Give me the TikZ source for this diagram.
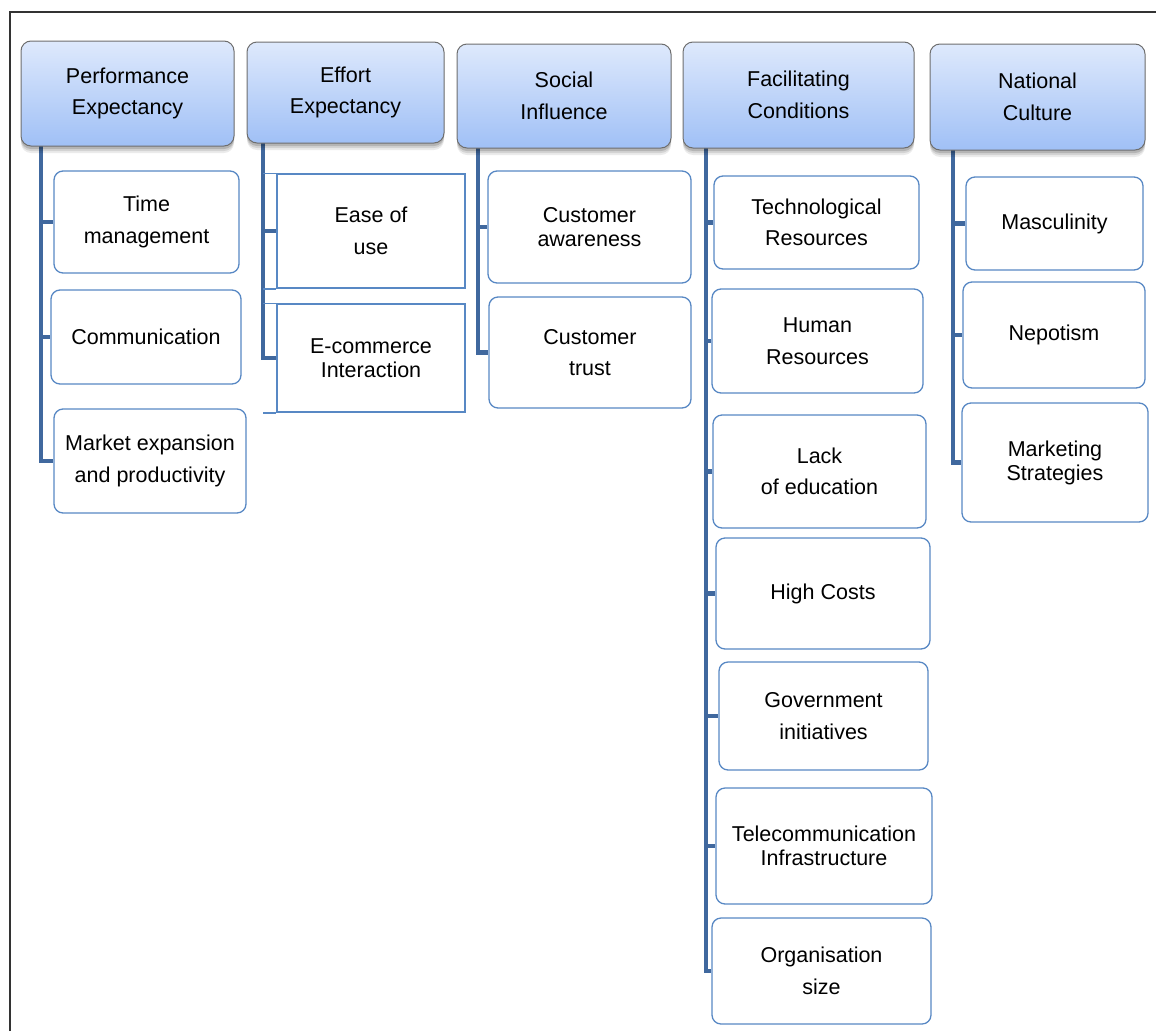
\documentclass[tikz,border=0pt]{standalone}
\usepackage{fontspec}
\setmainfont{Liberation Sans}
\usetikzlibrary{shadows,backgrounds}
\definecolor{hdrtop}{RGB}{222,233,252}
\definecolor{hdrbot}{RGB}{160,192,246}
\definecolor{hdrline}{RGB}{110,110,110}
\definecolor{childc}{RGB}{88,136,196}
\definecolor{trunkc}{RGB}{64,104,158}
\tikzset{
  txt/.style={font=\fontsize{21.5}{31.5}\selectfont},
  tight/.style={font=\fontsize{21.5}{24}\selectfont},
  hdr/.style={rounded corners=10pt, draw=hdrline, line width=1pt,
    top color=hdrtop, bottom color=hdrbot,
    drop shadow={shadow xshift=0pt, shadow yshift=-7pt, opacity=0.08, fill=black},
    drop shadow={shadow xshift=0pt, shadow yshift=-5pt, opacity=0.1, fill=black},
    drop shadow={shadow xshift=0pt, shadow yshift=-3pt, opacity=0.15, fill=black},
    align=center, inner sep=0pt, txt},
  child/.style={rounded corners=9pt, draw=childc, line width=1.3pt, fill=white,
    align=center, inner sep=0pt, txt},
  sqchild/.style={draw=childc, line width=1.5pt, fill=white,
    align=center, inner sep=0pt, txt},
  thinline/.style={draw=childc, line width=1.5pt},
  trunk/.style={draw=trunkc, line width=4.2pt},
  frameline/.style={draw=black!80, line width=1.2pt}
}
\begin{document}
\begin{tikzpicture}[x=1pt,y=-1pt]
\useasboundingbox (0,0) rectangle (1156,1031);
\draw[frameline] (10,1031) -- (10,12) -- (1156,12);

% headers
\node[hdr, minimum width=213pt, minimum height=105pt] (pe) at (127.5,93.5) {Performance\\Expectancy};
\node[hdr, minimum width=197pt, minimum height=101pt] (ee) at (345.5,92.5) {Effort\\Expectancy};
\node[hdr, minimum width=214pt, minimum height=104pt] (si) at (564,96) {Social\\Influence};
\node[hdr, minimum width=231pt, minimum height=106pt] (fc) at (798.5,95) {Facilitating\\Conditions};
\node[hdr, minimum width=215pt, minimum height=106pt] (nc) at (1037.5,97) {National\\Culture};

% Performance Expectancy children
\node[child, minimum width=185pt, minimum height=102pt] (pe1) at (146.5,222) {Time\\management};
\node[child, minimum width=190pt, minimum height=94pt] (pe2) at (146,337) {Communication};
\node[child, minimum width=192pt, minimum height=104pt] (pe3) at (150,461) {Market expansion\\and productivity};

% Effort Expectancy children
\node[sqchild, minimum width=188pt, minimum height=114pt] (ee1) at (371,231) {Ease of\\use};
\node[sqchild, tight, minimum width=188pt, minimum height=108pt] (ee2) at (371,358) {E-commerce\\Interaction};

% Social Influence children
\node[child, tight, minimum width=203pt, minimum height=112pt] (si1) at (589.5,227) {Customer\\awareness};
\node[child, minimum width=202pt, minimum height=111pt] (si2) at (590,352.5) {Customer\\trust};

% Facilitating Conditions children
\node[child, minimum width=205pt, minimum height=93pt] (fc1) at (816.5,222.5) {Technological\\Resources};
\node[child, minimum width=211pt, minimum height=104pt] (fc2) at (817.5,341) {Human\\Resources};
\node[child, minimum width=213pt, minimum height=113pt] (fc3) at (819.5,471.5) {Lack\\of education};
\node[child, minimum width=214pt, minimum height=111pt] (fc4) at (823,593.5) {High Costs};
\node[child, minimum width=209pt, minimum height=108pt] (fc5) at (823.5,716) {Government\\initiatives};
\node[child, tight, minimum width=216pt, minimum height=116pt] (fc6) at (824,846) {Telecommunication\\Infrastructure};
\node[child, minimum width=219pt, minimum height=106pt] (fc7) at (821.5,971) {Organisation\\size};

% National Culture children
\node[child, minimum width=177pt, minimum height=93pt] (nc1) at (1054.5,223.5) {Masculinity};
\node[child, minimum width=182pt, minimum height=106pt] (nc2) at (1054,335) {Nepotism};
\node[child, tight, minimum width=186pt, minimum height=119pt] (nc3) at (1055,462.5) {Marketing\\Strategies};

% trunk tops
\coordinate (peT) at (41,146);
\coordinate (eeT) at (263,143);
\coordinate (siT) at (478,148);
\coordinate (fcT) at (706,148);
\coordinate (ncT) at (953,150);

\begin{scope}[on background layer]
  \draw[trunk] (peT) |- (pe3.west);
  \draw[trunk] (peT |- pe1.west) -- (pe1.west);
  \draw[trunk] (peT |- pe2.west) -- (pe2.west);

  \draw[trunk] (eeT) |- (ee2.west);
  \draw[trunk] (eeT |- ee1.west) -- (ee1.west);
  \draw[thinline] (eeT |- ee1.north west) -- (ee1.north west);
  \draw[thinline] (eeT |- ee1.south west) -- (ee1.south west);
  \draw[thinline] (eeT |- ee2.north west) -- (ee2.north west);
  \draw[thinline] (eeT |- ee2.south west) -- (ee2.south west);

  \draw[trunk] (siT) |- (si2.west);
  \draw[trunk] (siT |- si1.west) -- (si1.west);

  \draw[trunk] (fcT) |- (fc7.west);
  \foreach \n in {fc1,fc2,fc3,fc4,fc5,fc6}
    \draw[trunk] (fcT |- \n.west) -- (\n.west);

  \draw[trunk] (ncT) |- (nc3.west);
  \draw[trunk] (ncT |- nc1.west) -- (nc1.west);
  \draw[trunk] (ncT |- nc2.west) -- (nc2.west);
\end{scope}
\end{tikzpicture}
\end{document}
